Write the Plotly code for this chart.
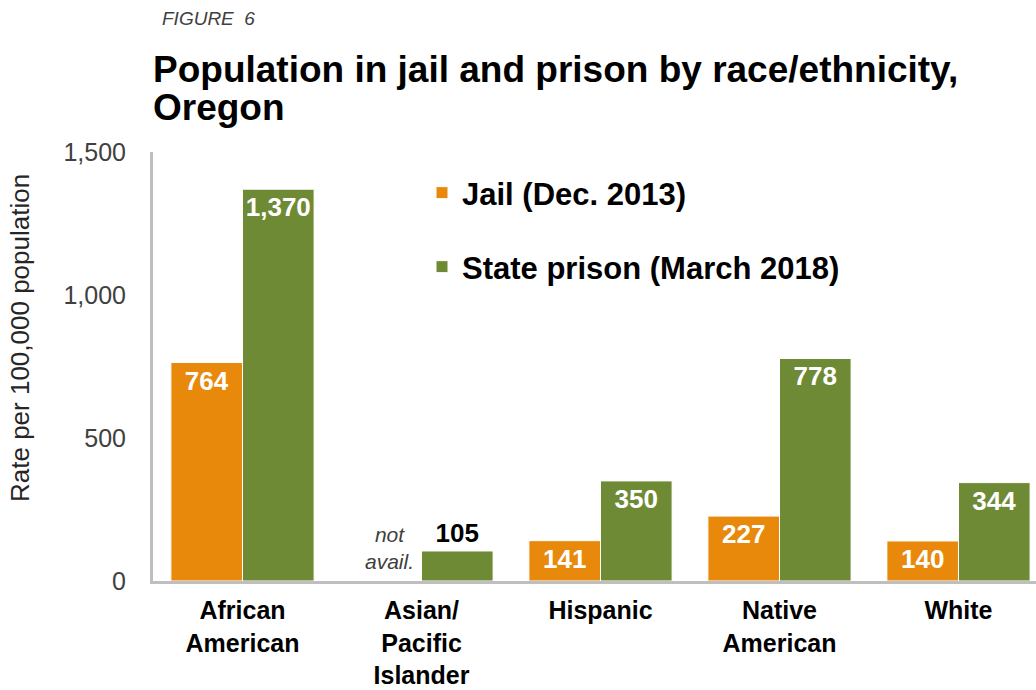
import plotly.graph_objects as go

categories = ["African<br>American", "Asian/<br>Pacific<br>Islander", "Hispanic", "Native<br>American", "White"]
jail = [764, None, 141, 227, 140]
prison = [1370, 105, 350, 778, 344]
y_ticks = [0, 500, 1000, 1500]
y_ticklabels = ["0", "500", "1,000", "1,500"]

FONT = "Liberation Sans, Arial, sans-serif"
ORANGE = "#E8890C"
GREEN = "#6F8A35"

fig = go.Figure()
fig.add_trace(go.Bar(
    x=categories, y=jail, name="<b>Jail (Dec. 2013)</b>",
    marker=dict(color=ORANGE, line=dict(color="white", width=1)),
    texttemplate="<b>%{y:,}</b>", textposition="inside", insidetextanchor="end",
    textfont=dict(family=FONT, size=26, color="white"),
    legend="legend", cliponaxis=False, hoverinfo="skip",
))
fig.add_trace(go.Bar(
    x=categories, y=prison, name="<b>State prison (March 2018)</b>",
    marker=dict(color=GREEN, line=dict(color="white", width=1)),
    texttemplate="<b>%{y:,}</b>",
    textposition=["inside", "outside", "inside", "inside", "inside"],
    insidetextanchor="end",
    textfont=dict(family=FONT, size=26, color=["white", "black", "white", "white", "white"]),
    legend="legend2", cliponaxis=False, hoverinfo="skip",
))

fig.update_layout(
    width=1036, height=690,
    margin=dict(l=153, r=0, t=152, b=109),
    paper_bgcolor="white", plot_bgcolor="white",
    font=dict(family=FONT, color="#404040"),
    barmode="group", bargap=0.2, bargroupgap=0,
    xaxis=dict(
        range=[-0.5, 4.433], showgrid=False, showline=True, linecolor="#BFBFBF", linewidth=3,
        ticks="", tickfont=dict(family=FONT, size=25, color="black"),
        tickvals=categories, ticktext=["<b>" + c + "</b>" for c in categories],
        ticklabelstandoff=5, fixedrange=True, automargin=False,
    ),
    yaxis=dict(
        range=[0, 1500], showgrid=False, showline=True, linecolor="#BFBFBF", linewidth=3,
        ticks="", tickvals=y_ticks, ticktext=y_ticklabels,
        tickfont=dict(family=FONT, size=25, color="#404040"),
        ticklabelstandoff=19, zeroline=False, fixedrange=True, automargin=False,
    ),
    legend=dict(
        x=(422 - 153) / 883, y=(581 - 193) / 429, xanchor="left", yanchor="middle",
        font=dict(family=FONT, size=31, color="black"), bgcolor="rgba(0,0,0,0)",
        itemwidth=30,
    ),
    legend2=dict(
        x=(422 - 153) / 883, y=(581 - 267) / 429, xanchor="left", yanchor="middle",
        font=dict(family=FONT, size=31, color="black"), bgcolor="rgba(0,0,0,0)",
        itemwidth=30,
    ),
    showlegend=True,
)

fig.add_annotation(
    text="<b>Population in jail and prison by race/ethnicity,</b>", xref="paper", yref="paper",
    x=(151 - 153) / 883, y=(581 - 69) / 429, xanchor="left", yanchor="middle",
    showarrow=False, font=dict(family=FONT, size=37, color="black"),
)
fig.add_annotation(
    text="<b>Oregon</b>", xref="paper", yref="paper",
    x=(151 - 153) / 883, y=(581 - 108) / 429, xanchor="left", yanchor="middle",
    showarrow=False, font=dict(family=FONT, size=37, color="black"),
)
fig.add_annotation(
    text="<i>FIGURE  6</i>", xref="paper", yref="paper",
    x=(160 - 153) / 883, y=(581 - 19) / 429, xanchor="left", yanchor="middle",
    showarrow=False, font=dict(family=FONT, size=19, color="#404040"),
)
fig.add_annotation(
    text="<i>not<br>avail.</i>", x=categories[1], y=0, xref="x", yref="y",
    xshift=-32, yshift=6, xanchor="center", yanchor="bottom", showarrow=False,
    font=dict(family=FONT, size=21, color="#404040"),
)
fig.add_annotation(
    text="Rate per 100,000 population", textangle=-90, xref="paper", yref="paper",
    x=(20 - 153) / 883, y=(581 - 338) / 429, xanchor="center", yanchor="middle",
    showarrow=False, font=dict(family=FONT, size=26, color="#262626"),
)

fig.write_html("out.html")
